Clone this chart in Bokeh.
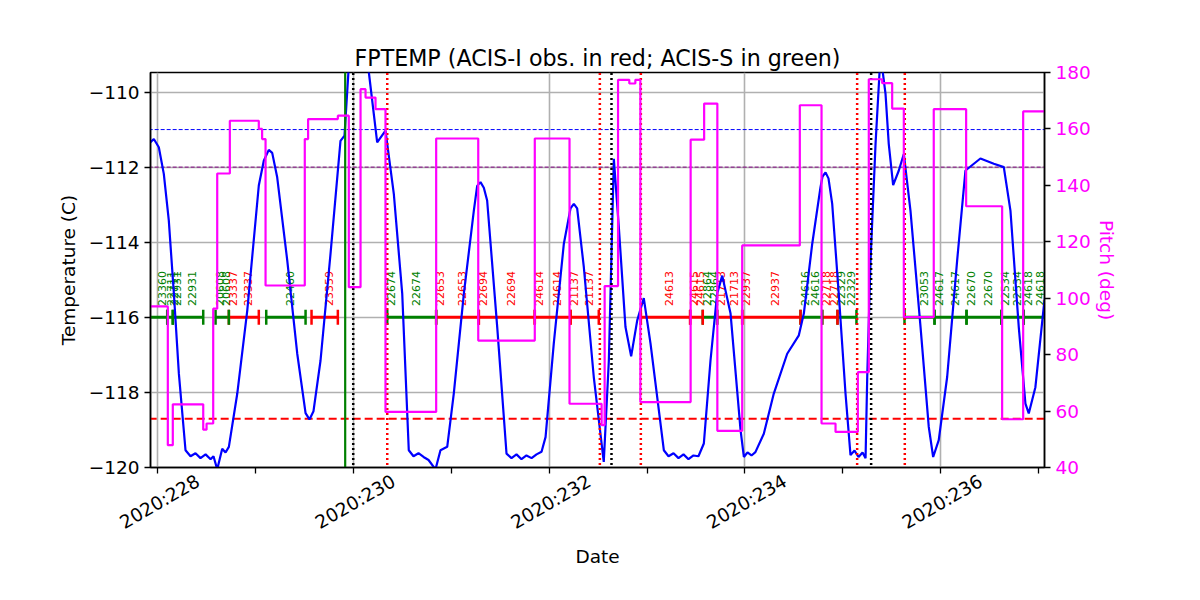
import math
from bokeh.plotting import figure
from bokeh.models import Range1d, LinearAxis, FixedTicker, ColumnDataSource
from bokeh.core.properties import value
from bokeh.embed import file_html
from bokeh.resources import INLINE

# ---- data (day of year 2020) ----
temp_day = [227.925, 227.959, 228.010, 228.061, 228.112, 228.164, 228.215, 228.283,
            228.334, 228.385, 228.436, 228.488, 228.539, 228.569, 228.607, 228.658, 228.692, 228.726,
            228.812, 228.914, 229.032, 229.083, 229.134, 229.169, 229.220, 229.323, 229.425, 229.510,
            229.550, 229.591, 229.663, 229.765,
            229.867, 229.908, 229.952, 230.051, 230.157, 230.242, 230.327, 230.412, 230.498, 230.565,
            230.613, 230.664, 230.716, 230.767, 230.838, 230.889, 230.958, 231.025, 231.128, 231.230,
            231.264, 231.298, 231.332, 231.366, 231.469, 231.564, 231.615, 231.666, 231.717, 231.768,
            231.820, 231.871, 231.922, 231.963, 232.047, 232.150, 232.218, 232.252, 232.286, 232.354,
            232.456, 232.558, 232.610, 232.661, 232.712, 232.780, 232.838, 232.900, 232.967, 233.036,
            233.172, 233.220, 233.271, 233.322, 233.373, 233.424, 233.475, 233.526, 233.581, 233.649,
            233.717, 233.769, 233.854, 233.956, 233.990, 234.027, 234.068, 234.108, 234.194, 234.296,
            234.433, 234.552, 234.603, 234.689, 234.773, 234.794, 234.825, 234.855, 234.893, 234.960,
            235.029, 235.080, 235.121, 235.162, 235.203, 235.234, 235.251, 235.285, 235.336, 235.387,
            235.438, 235.471, 235.516, 235.574, 235.625, 235.693, 235.796, 235.880, 235.925, 235.982,
            236.068, 236.170, 236.255, 236.408, 236.545, 236.647, 236.715, 236.800, 236.868, 236.902,
            236.970, 237.055, 237.083]
temp_val = [-111.34, -111.25, -111.47, -112.18, -113.42, -115.37, -117.50, -119.54,
            -119.70, -119.62, -119.75, -119.65, -119.78, -119.70, -120.05, -119.50, -119.60, -119.45,
            -118.03, -115.82, -112.49, -111.83, -111.54, -111.62, -112.27, -114.49, -116.97, -118.55,
            -118.72, -118.50, -117.15, -114.31,
            -111.30, -111.16, -109.30, -108.50, -109.48, -111.34, -111.03, -112.71, -115.37, -119.54,
            -119.70, -119.62, -119.72, -119.80, -120.05, -119.54, -119.45, -118.03, -115.37, -113.16,
            -112.50, -112.40, -112.55, -112.89, -116.26, -119.63, -119.75, -119.65, -119.78, -119.68,
            -119.75, -119.65, -119.58, -119.19, -116.70, -114.04, -113.10, -112.98, -113.10, -114.66,
            -117.59, -119.85, -117.15, -111.78, -113.60, -116.26, -117.04, -116.08, -115.49, -116.70,
            -119.54, -119.70, -119.62, -119.75, -119.65, -119.78, -119.68, -119.70, -119.36, -117.15,
            -115.37, -114.89, -115.90, -119.00, -119.72, -119.60, -119.68, -119.59, -119.10, -118.03,
            -116.97, -116.48, -115.90, -114.04, -112.54, -112.25, -112.14, -112.30, -112.98, -115.37,
            -118.03, -119.67, -119.55, -119.72, -119.60, -119.75, -117.59, -114.49, -111.38, -109.00,
            -110.05, -111.38, -112.48, -112.09, -111.65, -113.16, -116.26, -118.92, -119.72, -119.27,
            -117.59, -114.49, -112.09, -111.77, -111.91, -112.00, -113.16, -116.26, -118.30, -118.56,
            -117.86, -115.73, -115.20]

pitch_day = [227.925, 228.102, 228.153, 228.464, 228.498, 228.566, 228.607, 228.736, 229.032,
             229.066, 229.101, 229.502, 229.536, 229.840, 229.952, 230.072, 230.123, 230.225,
             230.327, 230.845, 231.275, 231.853, 232.208, 232.536, 232.567, 232.704, 232.819,
             232.881, 232.932, 233.446, 233.584, 233.719, 233.973, 234.562, 234.784, 234.927,
             235.155, 235.267, 235.404, 235.506, 235.625, 235.931, 236.262, 236.630, 236.845,
             237.063]
pitch_val = [97.1, 47.9, 62.4, 53.4, 55.6, 96.3, 144.2, 162.9, 160.0,
             156.4, 104.5, 156.4, 163.5, 164.7, 103.9, 174.1, 171.1, 167.0,
             59.7, 156.6, 85.0, 156.6, 62.6, 55.0, 104.3, 177.4, 176.1,
             177.4, 63.2, 156.2, 169.0, 53.0, 118.7, 168.4, 55.6, 52.6,
             73.8, 177.6, 176.2, 167.2, 93.3, 167.0, 132.6, 57.1, 166.2,
             166.2]

obs_id = ["23360", "22711", "22931", "20608", "23337", "22460", "23359", "22674", "22653",
          "22694", "24614", "21137", "24613", "24615", "22864", "21713", "22937", "24616",
          "22718", "22329", "23053", "24617", "22670", "22534", "24618"]
obs_start = [227.900, 228.096, 228.153, 228.590, 228.726, 229.108, 229.571, 230.345, 230.845,
             231.281, 231.853, 232.218, 232.937, 233.441, 233.570, 233.717, 233.973, 234.569,
             234.791, 234.947, 235.632, 235.939, 236.266, 236.623, 236.851]
obs_stop = [228.096, 228.153, 228.464, 228.726, 229.032, 229.510, 229.840, 230.845, 231.281,
            231.853, 232.218, 232.507, 233.441, 233.570, 233.717, 233.973, 234.569, 234.791,
            234.947, 235.141, 235.939, 236.266, 236.623, 236.851, 237.093]
obs_inst = ["S", "S", "S", "S", "I", "S", "I", "S", "I",
            "I", "I", "I", "I", "I", "S", "I", "I", "S",
            "I", "S", "S", "S", "S", "S", "S"]
obs_start_label = [False, True, True, True, True, False, False, True, True,
                   True, True, True, False, True, True, True, True, True,
                   True, True, False, True, True, True, True]

green_vlines = [229.915]
black_vlines = [229.997, 232.637, 235.291]
red_vlines = [230.345, 232.518, 232.937, 235.148, 235.635]
planning_limit = -111.0
acis_limit = -112.0
fp_sens_limit = -118.7
obs_level = -116.0

x_ticks = [228, 230, 232, 234, 236]
x_minor = [229, 231, 233, 235, 237]
x_tick_labels = ["2020:228", "2020:230", "2020:232", "2020:234", "2020:236"]
y_ticks = [-120, -118, -116, -114, -112, -110]
pitch_ticks = [40, 60, 80, 100, 120, 140, 160, 180]

# ---- figure ----
FONT = "DejaVu Sans"
FS = "18.5px"
x0, x1 = 227.925, 237.063
y0, y1 = -120.0, -109.48
p = figure(width=1192, height=592, x_range=Range1d(x0, x1), y_range=Range1d(y0, y1),
           output_backend="svg", toolbar_location=None,
           title="FPTEMP (ACIS-I obs. in red; ACIS-S in green)",
           min_border_left=150, min_border_right=148, min_border_top=72, min_border_bottom=125,
           y_axis_label="Temperature (C)")
# label axis: same scale, shifted so that right-anchored rotated labels sit centred on the ticks
LABEL_SHIFT = 0.41
p.extra_y_ranges = {"pitch": Range1d(40, 180)}
p.extra_x_ranges = {"labels": Range1d(x0 - LABEL_SHIFT, x1 - LABEL_SHIFT)}
p.background_fill_color = "white"
p.border_fill_color = "white"
p.outline_line_color = "black"
p.outline_line_width = 1.5

p.title.text_font = FONT
p.title.text_font_size = "22.2px"
p.title.text_font_style = "normal"
p.title.text_color = "black"
p.title.align = "center"
p.title.standoff = 4

xa = p.xaxis[0]
xa.ticker = FixedTicker(ticks=x_ticks, minor_ticks=x_minor)
xa.major_label_overrides = {t: "" for t in x_ticks}
ya = p.yaxis[0]
ya.ticker = FixedTicker(ticks=y_ticks)
ya.major_label_overrides = {t: ("\u2212%d" % abs(t)) for t in y_ticks}

ra = LinearAxis(y_range_name="pitch", ticker=FixedTicker(ticks=pitch_ticks),
                axis_label="Pitch (deg)")
p.add_layout(ra, "right")

la = LinearAxis(x_range_name="labels", ticker=FixedTicker(ticks=x_ticks), axis_label="Date")
p.add_layout(la, "below")

for ax in (xa, ya, ra, la):
    ax.axis_label_text_font = FONT
    ax.axis_label_text_font_size = FS
    ax.axis_label_text_font_style = "normal"
    ax.axis_label_text_color = "black"
    ax.major_label_text_font = FONT
    ax.major_label_text_font_size = FS
    ax.major_label_text_color = "black"
    ax.major_tick_out = 6
    ax.major_tick_in = 0
    ax.minor_tick_out = 6
    ax.minor_tick_in = 0
    ax.axis_line_color = "black"
    ax.axis_line_width = 1.5
    ax.major_tick_line_color = "black"
    ax.minor_tick_line_color = "black"
    ax.major_tick_line_width = 1.3
    ax.minor_tick_line_width = 1.3
ra.major_label_text_color = "magenta"
ra.axis_label_text_color = "magenta"
ra.minor_tick_line_color = None
ya.minor_tick_line_color = None
ya.axis_label_standoff = 7
ra.axis_label_standoff = 2

xa.major_label_text_font_size = "1px"
xa.major_label_standoff = 0
la.major_label_overrides = {t: l for t, l in zip(x_ticks, x_tick_labels)}
la.major_label_orientation = math.pi / 6
la.axis_line_color = None
la.major_tick_line_color = None
la.minor_tick_line_color = None
la.major_tick_out = 0
la.minor_tick_out = 0
la.major_label_standoff = 6
la.axis_label_standoff = 1

p.xgrid.grid_line_color = "#b0b0b0"
p.xgrid.grid_line_width = 1.6
p.ygrid.grid_line_color = "#b0b0b0"
p.ygrid.grid_line_width = 1.6

# horizontal limit lines
p.segment(x0=[x0 - 1], x1=[x1 + 1], y0=[planning_limit], y1=[planning_limit],
          line_color="blue", line_width=1, line_dash="4 2")
p.segment(x0=[x0 - 1], x1=[x1 + 1], y0=[acis_limit], y1=[acis_limit],
          line_color="purple", line_width=1, line_dash="4 2")
p.segment(x0=[x0 - 1], x1=[x1 + 1], y0=[fp_sens_limit], y1=[fp_sens_limit],
          line_color="red", line_width=2, line_dash="8 4")

# observation bars
col = ["red" if i == "I" else "green" for i in obs_inst]
bars = ColumnDataSource(dict(x0=obs_start, x1=obs_stop, y=[obs_level] * len(obs_id), c=col))
p.segment(x0="x0", x1="x1", y0="y", y1="y", line_color="c", line_width=3, source=bars)
tx = obs_start + obs_stop
tc = col + col
p.segment(x0=tx, x1=tx, y0=[obs_level - 0.2] * len(tx), y1=[obs_level + 0.2] * len(tx),
          line_color=tc, line_width=2.5)

lx, lt, lc = [], [], []
for oid, s, e, c, f in zip(obs_id, obs_start, obs_stop, col, obs_start_label):
    if f and s >= x0:
        lx.append(s); lt.append(oid); lc.append(c)
    m = 0.5 * (s + e)
    if m >= x0:
        lx.append(m); lt.append(oid); lc.append(c)
p.text(x=lx, y=[obs_level + 0.3] * len(lx), text=lt, text_color=lc, angle=math.pi / 2,
       text_align="left", text_baseline="top", text_font=value(FONT), text_font_size="11px")

# temperature
p.line(temp_day, temp_val, line_color="blue", line_width=2.2)

# vertical event lines
def vlines(xs, color, dash, width):
    p.segment(x0=xs, x1=xs, y0=[y0 - 1] * len(xs), y1=[y1 + 1] * len(xs),
              line_color=color, line_width=width, line_dash=dash)

vlines(green_vlines, "green", "solid", 2.2)
vlines(black_vlines, "black", "2 3", 2.5)
vlines(red_vlines, "red", "2 3", 2.5)

# pitch
p.step(pitch_day, pitch_val, mode="after", line_color="magenta", line_width=2.2,
       y_range_name="pitch")

open("out.html", "w").write(file_html(p, INLINE))
